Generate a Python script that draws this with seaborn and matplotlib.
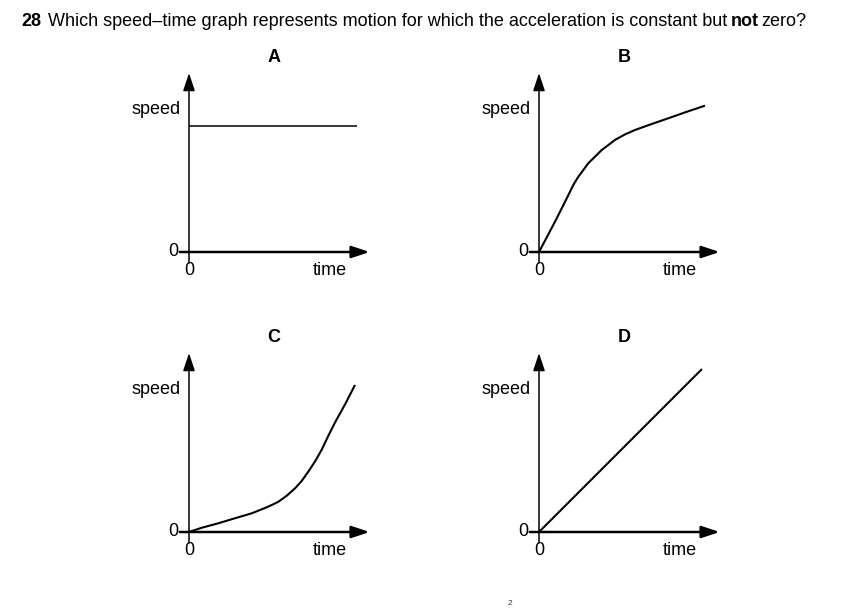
import numpy as np
import pandas as pd
import seaborn as sns
import matplotlib.pyplot as plt

# points: (time, speed), one unit ~ 16.8 px in every panel
a_time = [0.0, 10.0]
a_speed = [7.5, 7.5]
b_time = [0.0, 0.95, 1.75, 2.04, 2.34, 2.64, 2.93, 3.33, 3.73, 4.13, 4.52, 5.12,
          5.71, 6.71, 7.70, 8.69, 9.88]
b_speed = [0.0, 1.80, 3.39, 3.99, 4.48, 4.88, 5.28, 5.67, 6.07, 6.37, 6.67, 7.00,
           7.26, 7.62, 7.96, 8.31, 8.71]
c_time = [0.0, 0.75, 1.75, 2.74, 3.73, 4.72, 5.32, 5.82, 6.31, 6.71, 7.10, 7.50,
          7.90, 8.29, 8.69, 9.29, 9.88]
c_speed = [0.0, 0.25, 0.52, 0.82, 1.11, 1.51, 1.80, 2.16, 2.60, 3.04, 3.59, 4.20,
           4.90, 5.72, 6.52, 7.60, 8.75]
d_time = [0.0, 9.70]
d_speed = [0.0, 9.70]

letters = ["A", "B", "C", "D"]
curves = [(a_time, a_speed), (b_time, b_speed), (c_time, c_speed), (d_time, d_speed)]
line_widths = [1.1, 1.5, 1.5, 1.5]
# pixel position of each panel origin
origins = [(189, 252), (539, 252), (189, 532), (539, 532)]

sns.set_theme(style="white")
plt.rcParams["font.family"] = ["Liberation Sans", "DejaVu Sans"]
plt.rcParams["text.color"] = "black"

W, H = 852, 608
fs = 13
fig = plt.figure(figsize=(W / 100, H / 100), dpi=100)
fig.patch.set_facecolor("white")

# question line, with the bold bits placed after measuring the plain ones
yq = 1 - 21 / H
fig.text(21 / W, yq, "28", fontsize=fs, fontweight="bold", va="center", ha="left")
t1 = fig.text(48 / W, yq,
              "Which speed\u2013time graph represents motion for which the acceleration is constant but",
              fontsize=fs, va="center", ha="left")
fig.canvas.draw()
t2 = fig.text((t1.get_window_extent().x1 + 4) / W, yq, "not", fontsize=fs,
              fontweight="bold", va="center", ha="left")
fig.canvas.draw()
fig.text((t2.get_window_extent().x1 + 2) / W, yq, "zero?", fontsize=fs, va="center", ha="left")

# page number at the bottom edge
fig.text(510 / W, 1 - 607 / H, "2", fontsize=6, color="#333333", va="bottom", ha="center")

scale = 16.8
x0, x1, y0, y1 = -3.8, 11.5, -1.8, 12.2
for letter, (t, s), lw, (ox, oy) in zip(letters, curves, line_widths, origins):
    left = ox + x0 * scale
    right = ox + x1 * scale
    top = oy - y1 * scale
    bottom = oy - y0 * scale
    ax = fig.add_axes([left / W, 1 - bottom / H, (right - left) / W, (bottom - top) / H])
    ax.set_xlim(x0, x1)
    ax.set_ylim(y0, y1)
    ax.set_axis_off()

    df = pd.DataFrame({"time": t, "speed": s})
    sns.lineplot(data=df, x="time", y="speed", sort=False, color="black", lw=lw, ax=ax,
                 solid_joinstyle="round", solid_capstyle="butt")

    # axes with arrow heads
    ax.annotate("", xy=(0, 10.65), xytext=(0, -0.65),
                arrowprops=dict(arrowstyle="-|>,head_length=0.9,head_width=0.3",
                                color="black", lw=1.1, shrinkA=0, shrinkB=0))
    ax.annotate("", xy=(10.75, 0), xytext=(-0.55, 0),
                arrowprops=dict(arrowstyle="-|>,head_length=0.9,head_width=0.3",
                                color="black", lw=1.8, shrinkA=0, shrinkB=0))

    ax.text(-0.5, 8.5, "speed", fontsize=fs, ha="right", va="center")
    ax.text(-0.65, 0, "0", fontsize=fs, ha="right", va="center")
    ax.text(0, -1.1, "0", fontsize=fs, ha="center", va="center")
    ax.text(8.4, -1.1, "time", fontsize=fs, ha="center", va="center")
    ax.text(5.06, 11.55, letter, fontsize=fs, fontweight="bold", ha="center", va="center")

fig.savefig("out.png", dpi=100, facecolor="white")
